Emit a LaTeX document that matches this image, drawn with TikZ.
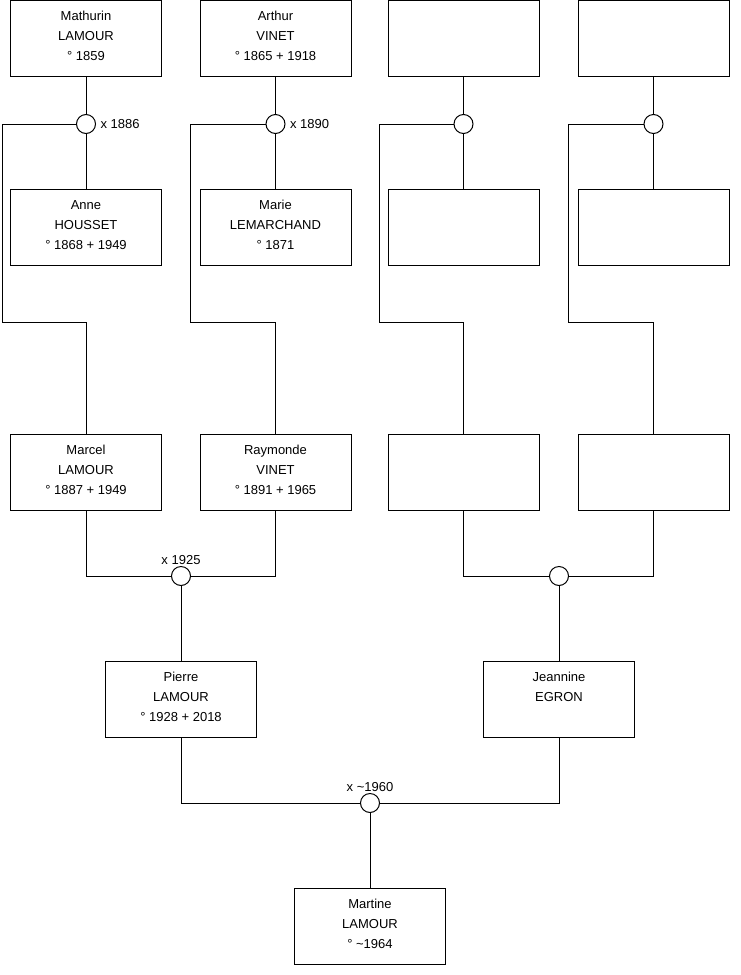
\documentclass[tikz,border=0pt]{standalone}
\usepackage{fontspec}
\setmainfont{Liberation Sans}
\usetikzlibrary{positioning}

\begin{document}
\begin{tikzpicture}[
  x=1pt, y=-1pt, line width=1pt,
  font=\fontsize{13}{20}\selectfont,
  person/.style={draw, rectangle, minimum width=151pt, minimum height=76pt,
                 inner sep=0pt, align=center, text depth=5pt},
  wed/.style={draw, circle, fill=white, minimum size=19pt, inner sep=0pt},
  wedlbl/.style={inner sep=1pt},
]
\useasboundingbox (0,0) rectangle (740,975);

%% ---- grands-parents (haut) ----
\node[person] (mathurin) at (86,38)    {Mathurin\\LAMOUR\\° 1859};
\node[person] (arthur)   at (275.5,38) {Arthur\\VINET\\° 1865 + 1918};
\node[person] (gpere3)   at (463.5,38) {};
\node[person] (gpere4)   at (653.5,38) {};

%% ---- mariages du haut ----
\node[wed, label={[wedlbl, label distance=3pt]right:x 1886}] (w1886) at (86,124) {};
\node[wed, label={[wedlbl, label distance=3pt]right:x 1890}] (w1890) at (275.5,124) {};
\node[wed] (w3) at (463.5,124) {};
\node[wed] (w4) at (653.5,124) {};

%% ---- epouses ----
\node[person] (anne)  at (86,227.5)    {Anne\\HOUSSET\\° 1868 + 1949};
\node[person] (marie) at (275.5,227.5) {Marie\\LEMARCHAND\\° 1871};
\node[person] (gmere3) at (463.5,227.5) {};
\node[person] (gmere4) at (653.5,227.5) {};

%% ---- parents ----
\node[person] (marcel)   at (86,472.5)    {Marcel\\LAMOUR\\° 1887 + 1949};
\node[person] (raymonde) at (275.5,472.5) {Raymonde\\VINET\\° 1891 + 1965};
\node[person] (parent3)  at (463.5,472.5) {};
\node[person] (parent4)  at (653.5,472.5) {};

%% ---- mariages du milieu ----
\node[wed, label={[wedlbl]above:x 1925}] (w1925) at (181,576) {};
\node[wed] (w5) at (559,576) {};

\node[person] (pierre)   at (181,699.5) {Pierre\\LAMOUR\\° 1928 + 2018};
\node[person] (jeannine) at (559,699.5) {Jeannine\\EGRON\\\phantom{0}};

%% ---- dernier mariage et enfant ----
\node[wed, label={[wedlbl]above:x \textasciitilde1960}] (w1960) at (370,803) {};
\node[person] (martine) at (370,926.5) {Martine\\LAMOUR\\° \textasciitilde1964};

%% ---- coins des lignes ----
\coordinate (k1) at (2,322);
\coordinate (k2) at (190,322);
\coordinate (k3) at (379,322);
\coordinate (k4) at (568,322);

%% ---- liens ----
\draw (mathurin) -- (w1886) -- (anne);
\draw (arthur) -- (w1890) -- (marie);
\draw (gpere3) -- (w3) -- (gmere3);
\draw (gpere4) -- (w4) -- (gmere4);

\draw (w1886.west) -| (k1) -| (marcel.north);
\draw (w1890.west) -| (k2) -| (raymonde.north);
\draw (w3.west) -| (k3) -| (parent3.north);
\draw (w4.west) -| (k4) -| (parent4.north);

\draw (marcel.south) |- (w1925.west);
\draw (raymonde.south) |- (w1925.east);
\draw (parent3.south) |- (w5.west);
\draw (parent4.south) |- (w5.east);
\draw (w1925) -- (pierre);
\draw (w5) -- (jeannine);

\draw (pierre.south) |- (w1960.west);
\draw (jeannine.south) |- (w1960.east);
\draw (w1960) -- (martine);

\end{tikzpicture}
\end{document}
